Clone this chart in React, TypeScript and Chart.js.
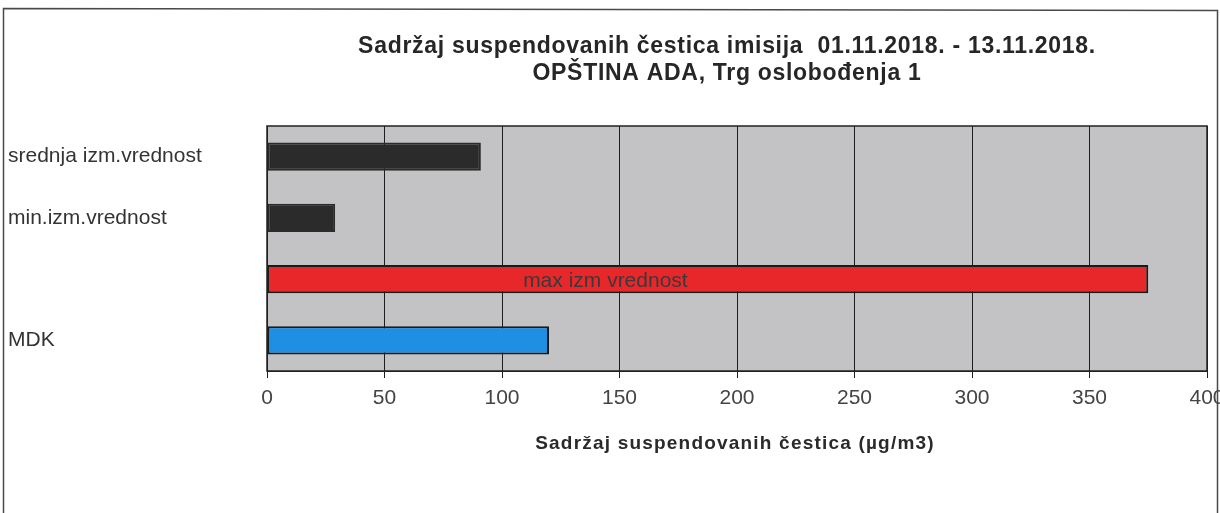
import React, { useEffect, useRef } from "react";
import { Chart, registerables } from "chart.js";

Chart.register(...registerables);

const categories = ["srednja izm.vrednost", "min.izm.vrednost", "", "MDK"];
const values = [91, 29, 375, 120];
const barColors = ["#2b2b2b", "#2b2b2b", "#e8272b", "#1f8fe3"];
const barBorders = ["#2b2b2b", "#2b2b2b", "#1a1a1a", "#1a1a1a"];
const innerLabels = ["", "", "max izm vrednost", ""];
const titleLines = [
  "Sadržaj suspendovanih čestica imisija  01.11.2018. - 13.11.2018.",
  "OPŠTINA ADA, Trg oslobođenja 1",
];
const xAxisTitle = "Sadržaj suspendovanih čestica (µg/m3)";
const xMin = 0;
const xMax = 400;
const xStep = 50;

const FONT = "'Liberation Sans', Arial, sans-serif";

const decorPlugin = {
  id: "decor",
  beforeDraw(chart: any) {
    const { ctx, chartArea } = chart;
    ctx.save();
    ctx.fillStyle = "#ffffff";
    ctx.fillRect(0, 0, chart.width, chart.height);
    ctx.strokeStyle = "#4a4a4a";
    ctx.lineWidth = 1.5;
    ctx.beginPath();
    ctx.moveTo(3.5, 530);
    ctx.lineTo(3.5, 8.5);
    ctx.lineTo(1217.5, 10.5);
    ctx.lineTo(1217.5, 530);
    ctx.stroke();
    ctx.fillStyle = "#c3c3c5";
    ctx.fillRect(chartArea.left, chartArea.top, chartArea.right - chartArea.left, chartArea.bottom - chartArea.top);
    ctx.restore();
  },
  afterDatasetsDraw(chart: any) {
    const { ctx, chartArea } = chart;
    ctx.save();
    ctx.strokeStyle = "#222";
    ctx.lineWidth = 1.5;
    ctx.strokeRect(chartArea.left, chartArea.top, chartArea.right - chartArea.left, chartArea.bottom - chartArea.top);
    const meta = chart.getDatasetMeta(0);
    const xs = chart.scales.x;
    ctx.font = `21px ${FONT}`;
    ctx.fillStyle = "#3a3a3a";
    ctx.textAlign = "center";
    ctx.textBaseline = "middle";
    innerLabels.forEach((t, i) => {
      if (!t) return;
      const el = meta.data[i];
      ctx.fillText(t, xs.getPixelForValue(144), el.y + 2);
    });
    const cx = (chartArea.left + chartArea.right) / 2 - 10;
    ctx.fillStyle = "#262626";
    ctx.font = `bold 23px ${FONT}`;
    (ctx as any).letterSpacing = "0.7px";
    ctx.fillText(titleLines[0], cx, 47);
    ctx.fillText(titleLines[1], cx, 74);
    ctx.font = `bold 19px ${FONT}`;
    (ctx as any).letterSpacing = "1.2px";
    ctx.fillStyle = "#2a2a2a";
    ctx.fillText(xAxisTitle, cx + 8, 444);
    ctx.restore();
  },
};

export default function App() {
  const ref = useRef<HTMLCanvasElement>(null);
  useEffect(() => {
    const chart = new Chart(ref.current!, {
      type: "bar",
      data: {
        labels: categories,
        datasets: [
          {
            data: values,
            backgroundColor: barColors,
            borderColor: barBorders,
            borderWidth: 2,
            borderSkipped: false,
            barPercentage: 0.46,
            categoryPercentage: 1,
          },
        ],
      },
      options: {
        indexAxis: "y",
        animation: false,
        responsive: false,
        maintainAspectRatio: false,
        layout: { padding: { left: 8, top: 126, right: 13, bottom: 0 } },
        plugins: { legend: { display: false }, title: { display: false }, tooltip: { enabled: false } },
        scales: {
          x: {
            min: xMin,
            max: xMax,
            ticks: { stepSize: xStep, color: "#444", font: { size: 21, family: FONT }, padding: 8 },
            grid: { color: "#1e1e1e", lineWidth: 1, tickLength: 7, tickColor: "#1e1e1e" },
            border: { display: true, color: "#1e1e1e" },
            afterFit: (s: any) => {
              s.height = 142;
              s.paddingLeft = 0;
              s.paddingRight = 0;
            },
          },
          y: {
            ticks: { color: "#333", font: { size: 21, family: FONT }, crossAlign: "far", padding: 8 },
            grid: { display: false },
            border: { display: true, color: "#1e1e1e" },
            afterFit: (s: any) => {
              s.width = 259;
              s.paddingTop = 0;
              s.paddingBottom = 0;
            },
          },
        },
      },
      plugins: [decorPlugin],
    });
    return () => chart.destroy();
  }, []);
  return (
    <div style={{ position: "fixed", left: 0, top: 0, width: 1220, height: 513, background: "#fff" }}>
      <canvas ref={ref} width={1220} height={513} style={{ display: "block" }} />
    </div>
  );
}
